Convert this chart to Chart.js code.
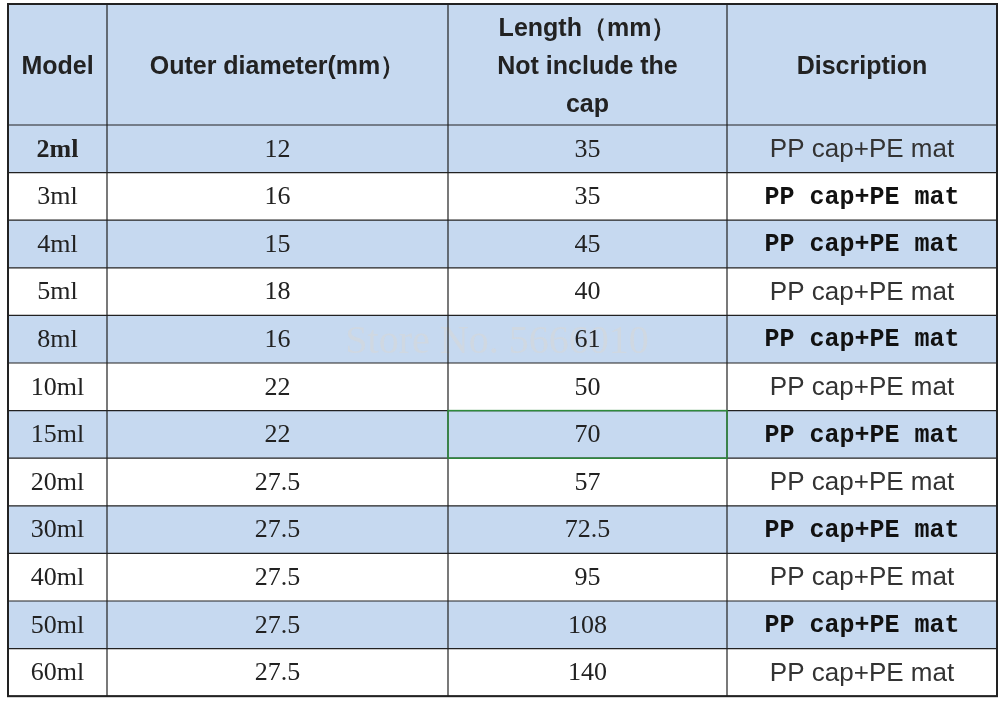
<!DOCTYPE html>
<html><head><meta charset="utf-8">
<script src="https://cdn.jsdelivr.net/npm/chart.js@4"></script>
<style>html,body{margin:0;padding:0;background:#fff}#w{width:1000px;height:701px}</style>
</head><body><div id="w"><canvas id="c"></canvas></div>
<script>
const headers = ["Model", "Outer diameter(mm\uFF09", "Length\uFF08mm\uFF09\nNot include the\ncap", "Discription"];
const models = ["2ml","3ml","4ml","5ml","8ml","10ml","15ml","20ml","30ml","40ml","50ml","60ml"];
const diameters = ["12","16","15","18","16","22","22","27.5","27.5","27.5","27.5","27.5"];
const lengths = ["35","35","45","40","61","50","70","57","72.5","95","108","140"];
const descriptions = ["PP cap+PE mat","PP cap+PE mat","PP cap+PE mat","PP cap+PE mat","PP cap+PE mat","PP cap+PE mat","PP cap+PE mat","PP cap+PE mat","PP cap+PE mat","PP cap+PE mat","PP cap+PE mat","PP cap+PE mat"];
const descBoldMono = [false,true,true,false,true,false,true,false,true,false,true,false];

const colEdges = [8,107,448,727,997];
const headerTop = 4, headerBottom = 125, rowH = 47.6;
const blue = "#c6d9f0";

const tablePlugin = {
  id:'table',
  beforeDatasetsDraw(chart){
    const ctx = chart.ctx, xs = chart.scales.x, ys = chart.scales.y;
    const X = v=>xs.getPixelForValue(v), Y = v=>ys.getPixelForValue(v);
    const rowTop = i => headerBottom + i*rowH;
    ctx.save();
    ctx.fillStyle = blue;
    ctx.fillRect(X(colEdges[0]),Y(headerTop),X(colEdges[4])-X(colEdges[0]),Y(headerBottom)-Y(headerTop));
    models.forEach((m,i)=>{
      ctx.fillStyle = i%2===0 ? blue : "#ffffff";
      ctx.fillRect(X(colEdges[0]),Y(rowTop(i)),X(colEdges[4])-X(colEdges[0]),Y(rowTop(i+1))-Y(rowTop(i)));
    });
    ctx.fillStyle = "rgba(215,215,215,0.55)";
    ctx.font = "40px 'Liberation Serif'";
    ctx.textAlign = "center"; ctx.textBaseline = "middle";
    ctx.fillText("Store No. 5666010", X(497), Y(342));
    ctx.strokeStyle = "#222"; ctx.lineWidth = 1.2;
    ctx.beginPath();
    colEdges.forEach(x=>{ctx.moveTo(X(x),Y(headerTop));ctx.lineTo(X(x),Y(rowTop(models.length)));});
    ctx.moveTo(X(colEdges[0]),Y(headerTop));ctx.lineTo(X(colEdges[4]),Y(headerTop));
    for(let i=0;i<=models.length;i++){ctx.moveTo(X(colEdges[0]),Y(rowTop(i)));ctx.lineTo(X(colEdges[4]),Y(rowTop(i)));}
    ctx.stroke();
    ctx.lineWidth = 2;
    ctx.strokeRect(X(colEdges[0]),Y(headerTop),X(colEdges[4])-X(colEdges[0]),Y(rowTop(models.length))-Y(headerTop));
    ctx.strokeStyle = "#2e8b3c"; ctx.lineWidth = 1.5;
    ctx.strokeRect(X(colEdges[2]),Y(rowTop(6)),X(colEdges[3])-X(colEdges[2]),Y(rowTop(7))-Y(rowTop(6)));
    ctx.fillStyle = "#222";
    ctx.font = "bold 25px 'Liberation Sans'";
    headers.forEach((h,c)=>{
      const cx = (X(colEdges[c])+X(colEdges[c+1]))/2;
      const lines = h.split("\n");
      const mid = (Y(headerTop)+Y(headerBottom))/2 + 3;
      lines.forEach((l,k)=>ctx.fillText(l,cx,mid+(k-(lines.length-1)/2)*38));
    });
    models.forEach((m,i)=>{
      const cy = (Y(rowTop(i))+Y(rowTop(i+1)))/2 + 1;
      const cells=[m,diameters[i],lengths[i],descriptions[i]];
      cells.forEach((t,c)=>{
        const cx = (X(colEdges[c])+X(colEdges[c+1]))/2;
        if(c===3){
          ctx.font = descBoldMono[i] ? "bold 25px 'Liberation Mono'" : "26px 'Liberation Sans'";
          ctx.fillStyle = descBoldMono[i] ? "#111" : "#333";
        } else {
          ctx.font = (c===0&&i===0?"bold ":"")+"26px 'Liberation Serif'";
          ctx.fillStyle = "#222";
        }
        ctx.fillText(t,cx,cy);
      });
    });
    ctx.restore();
  }
};

new Chart(document.getElementById('c'),{
  type:'scatter',
  data:{datasets:[{data:[]}]},
  options:{
    responsive:true,maintainAspectRatio:false,animation:false,
    layout:{padding:0},
    plugins:{legend:{display:false},tooltip:{enabled:false}},
    scales:{
      x:{type:'linear',min:0,max:1000,display:false},
      y:{type:'linear',min:0,max:701,reverse:true,display:false}
    }
  },
  plugins:[tablePlugin]
});
</script></body></html>
